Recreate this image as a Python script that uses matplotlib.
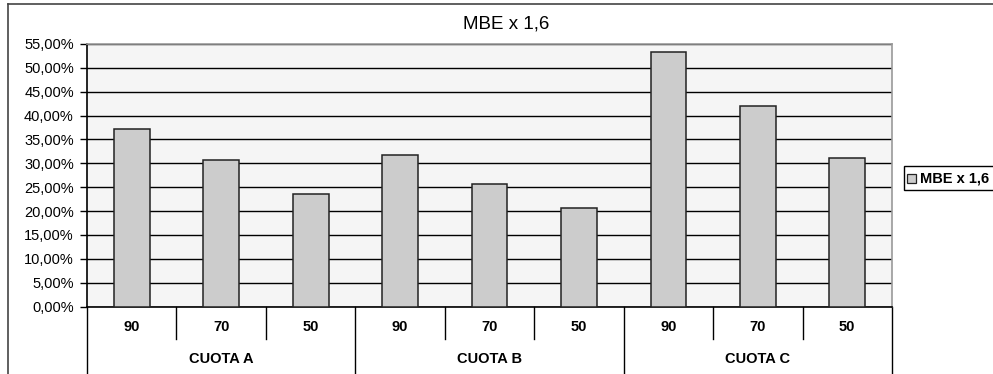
import matplotlib
matplotlib.use("Agg")
import matplotlib.pyplot as plt
from matplotlib.lines import Line2D
from matplotlib.patches import Rectangle
from matplotlib.ticker import MultipleLocator, FuncFormatter

plt.rcParams['font.family'] = ['Liberation Sans', 'DejaVu Sans']

groups = ["CUOTA A", "CUOTA B", "CUOTA C"]
sublabels = ["90", "70", "50"]
values = [37.1, 30.6, 23.5, 31.7, 25.6, 20.7, 53.4, 42.0, 31.1]
series_name = "MBE x 1,6"
title = "MBE x 1,6"

W, H = 993, 374
fig = plt.figure(figsize=(W / 100, H / 100), dpi=100)
fig.patch.set_facecolor("white")

def fx(px):
    return px / W

def fy(py):
    return 1 - py / H

# outer chart frame (top and left borders visible)
fig.add_artist(Line2D([fx(8), fx(8)], [0, fy(3.5)], transform=fig.transFigure, color="#444444", lw=1.2))
fig.add_artist(Line2D([fx(8), 1], [fy(3.5), fy(3.5)], transform=fig.transFigure, color="#444444", lw=1.2))

left, right, top, bottom = 87, 892, 44, 306.5
ax = fig.add_axes([fx(left), fy(bottom), (right - left) / W, (bottom - top) / H])
ax.set_facecolor("#F5F5F5")

n = len(values)
x = list(range(n))
ax.bar(x, values, width=0.4, color="#CCCCCC", edgecolor="#222222", linewidth=1.1, zorder=3)
ax.set_xlim(-0.5, n - 0.5)
ax.set_ylim(0, 55)
ax.yaxis.set_major_locator(MultipleLocator(5))
ax.yaxis.set_major_formatter(FuncFormatter(lambda v, p: f"{v:.2f}".replace(".", ",") + "%"))
ax.grid(axis="y", color="black", lw=1.0, zorder=1)
ax.set_xticks([])
ax.tick_params(axis="y", labelsize=10.5, length=5, width=1.0, colors="black", pad=4.5)
for s in ["top", "right"]:
    ax.spines[s].set_color("#999999")
    ax.spines[s].set_linewidth(1.2)
ax.spines["left"].set_color("black")
ax.spines["left"].set_linewidth(1.2)
ax.spines["bottom"].set_color("black")
ax.spines["bottom"].set_linewidth(1.2)

ph = bottom - top
tr = ax.get_xaxis_transform()
def ay(py):
    # pixel offset below the axis bottom -> axes coordinate
    return -py / ph

# hierarchical category axis
for i in range(n + 1):
    xb = i - 0.5
    if i % 3 == 0:
        ax.add_line(Line2D([xb, xb], [0, ay(H - bottom + 5)], transform=tr, color="black", lw=1.0, clip_on=False))
    else:
        ax.add_line(Line2D([xb, xb], [0, ay(339 - bottom)], transform=tr, color="black", lw=1.0, clip_on=False))

for i in range(n):
    ax.text(i, ay(327 - bottom), sublabels[i % 3], transform=tr, ha="center", va="center",
            fontsize=10.5, fontweight="bold")
for g, name in enumerate(groups):
    ax.text(g * 3 + 1, ay(359 - bottom), name, transform=tr, ha="center", va="center",
            fontsize=10.5, fontweight="bold")

fig.text(fx(506), fy(24), title, ha="center", va="center", fontsize=13.5)

# legend (drawn as in the reference: box running to the right edge)
fig.add_artist(Rectangle((fx(904), fy(190)), fx(995) - fx(904), fy(166) - fy(190),
                         transform=fig.transFigure, facecolor="white", edgecolor="black", lw=1.0))
fig.add_artist(Rectangle((fx(907), fy(183)), fx(916) - fx(907), fy(174) - fy(183),
                         transform=fig.transFigure, facecolor="#CCCCCC", edgecolor="#222222", lw=0.9))
fig.text(fx(920), fy(178.5), series_name, ha="left", va="center", fontsize=10.5, fontweight="bold")

fig.savefig("out.png", dpi=100)
